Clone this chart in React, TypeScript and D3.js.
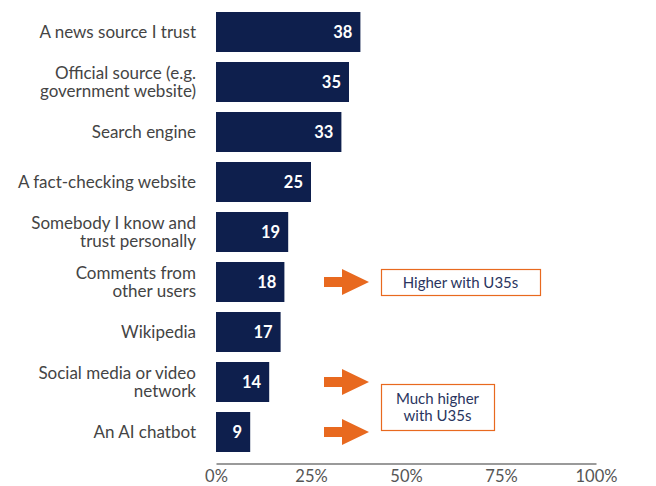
import * as d3 from "d3";
import { useEffect, useRef } from "react";

const categories = [
  ["A news source I trust"],
  ["Official source (e.g.", "government website)"],
  ["Search engine"],
  ["A fact-checking website"],
  ["Somebody I know and", "trust personally"],
  ["Comments from", "other users"],
  ["Wikipedia"],
  ["Social media or video", "network"],
  ["An AI chatbot"],
];
const values = [38, 35, 33, 25, 19, 18, 17, 14, 9];
const ticks = [0, 25, 50, 75, 100];

// which rows get an arrow, and the notes next to them
const arrowRows = [5, 7, 8];
const notes = [
  { rows: [5], lines: ["Higher with U35s"], width: 159 },
  { rows: [7, 8], lines: ["Much higher", "with U35s"], width: 113 },
];

const navy = "#0e1f4d";
const orange = "#e8691f";
const font = "Lato, sans-serif";

function AxisBottom({ scale, transform }: { scale: d3.ScaleLinear<number, number>; transform: string }) {
  const ref = useRef<SVGGElement>(null);

  useEffect(() => {
    if (ref.current) {
      const axis = d3.axisBottom(scale).tickValues(ticks).tickSize(0).tickPadding(7)
        .tickFormat(d => `${d}%`);
      const g = d3.select(ref.current).call(axis);
      g.select(".domain").attr("stroke", "#9a9a9a").attr("stroke-width", 2);
      g.selectAll("text")
        .attr("font-family", font)
        .attr("font-size", 16.5)
        .attr("fill", "#555");
    }
  }, [ref, scale]);

  return <g ref={ref} transform={transform} />;
}

export default function App() {
  const margin = { top: 11, left: 216 };
  const width = 380;

  const x = d3.scaleLinear().domain([0, 100]).range([0, width]);
  const y = d3.scaleBand<number>()
    .domain(values.map((_, i) => i))
    .range([0, 450])
    .paddingInner(0.2)
    .paddingOuter(0.1);
  const yCenter = (i: number) => (y(i) ?? 0) + y.bandwidth() / 2;

  return (
    <svg width={656} height={486} style={{ position: "absolute", left: 0, top: 0 }}>
      <g transform={`translate(${margin.left}, ${margin.top - 4})`}>
        {values.map((v, i) => (
          <g key={`bar-${i}`}>
            <rect x={0} y={y(i)} width={x(v)} height={y.bandwidth()} fill={navy} />
            <text
              x={x(v) - 8}
              y={yCenter(i)}
              dy="0.36em"
              textAnchor="end"
              fill="#fff"
              fontFamily={font}
              fontWeight={700}
              fontSize={16.5}
            >
              {v}
            </text>
            <text
              x={-20}
              y={yCenter(i) - ((categories[i].length - 1) * 18) / 2}
              textAnchor="end"
              fill="#444"
              fontFamily={font}
              fontSize={17}
            >
              {categories[i].map((line, k) => (
                <tspan key={k} x={-20} dy={k === 0 ? "0.36em" : 18}>{line}</tspan>
              ))}
            </text>
          </g>
        ))}

        {arrowRows.map(i => {
          const cy = yCenter(i);
          const x0 = 108;
          return (
            <path
              key={`arrow-${i}`}
              d={`M${x0},${cy - 5} H${x0 + 18} V${cy - 13} L${x0 + 45},${cy} L${x0 + 18},${cy + 13} V${cy + 5} H${x0} Z`}
              fill={orange}
            />
          );
        })}

        {notes.map((n, k) => {
          const top = yCenter(n.rows[0]) - 13 + (n.rows.length > 1 ? 15 : 0);
          const h = n.lines.length > 1 ? 46 : 26;
          const cx = 165 + n.width / 2;
          return (
            <g key={`note-${k}`}>
              <rect x={165.5} y={top + 0.5} width={n.width} height={h} fill="#fff" stroke={orange} strokeWidth={1.2} />
              <text textAnchor="middle" fill="#2a3560" fontFamily={font} fontSize={15}>
                {n.lines.map((line, j) => (
                  <tspan key={j} x={cx} y={top + h / 2 + 5.5 + (j - (n.lines.length - 1) / 2) * 17}>{line}</tspan>
                ))}
              </text>
            </g>
          );
        })}

        <AxisBottom scale={x} transform="translate(0, 456.5)" />
      </g>
    </svg>
  );
}
